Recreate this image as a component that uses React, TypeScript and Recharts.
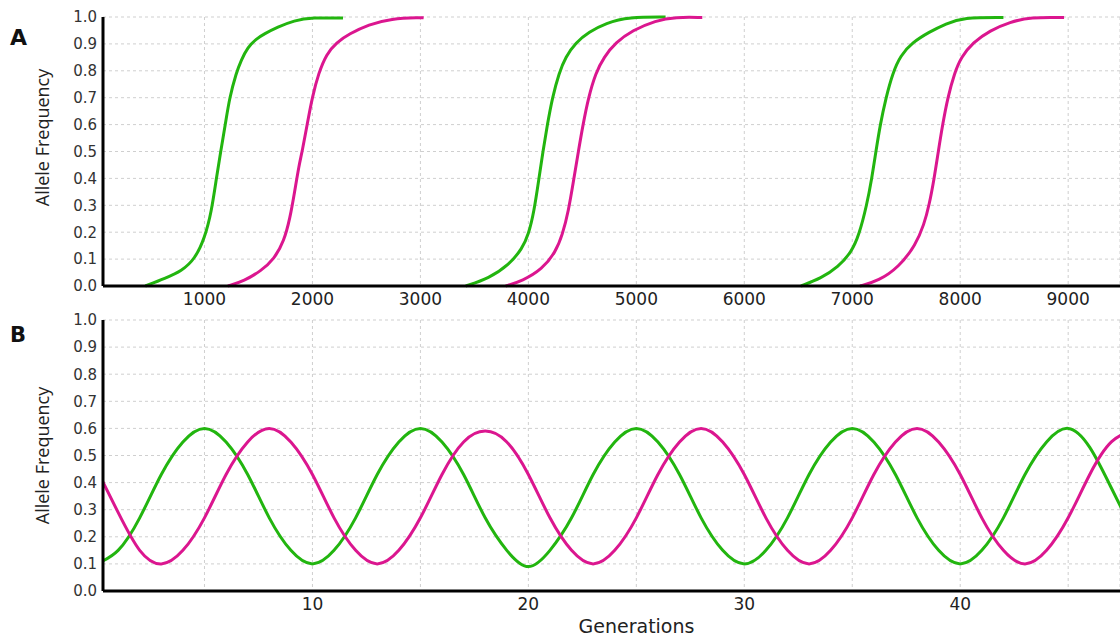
import { CartesianGrid, Line, LineChart, XAxis, YAxis } from 'recharts'

// panel A: three selective sweeps, each as [generation, allele frequency]
const sweepGreen1 = [
  [452, 0], [636, 0.029], [789, 0.056], [911, 0.1], [1003, 0.18], [1064, 0.275], [1110, 0.4],
  [1150, 0.5], [1193, 0.6], [1232, 0.7], [1294, 0.792], [1339, 0.839], [1400, 0.887],
  [1477, 0.918], [1553, 0.937], [1676, 0.962], [1828, 0.987], [2000, 0.998], [2283, 0.996],
]
const sweepMagenta1 = [
  [1217, 0], [1368, 0.019], [1523, 0.056], [1645, 0.1], [1737, 0.167], [1792, 0.252],
  [1835, 0.35], [1874, 0.446], [1905, 0.5], [1951, 0.6], [1997, 0.7], [2057, 0.792],
  [2131, 0.863], [2221, 0.905], [2340, 0.937], [2520, 0.972], [2728, 0.994], [3000, 0.998],
  [3030, 0.997],
]
const sweepGreen2 = [
  [3420, 0], [3635, 0.029], [3820, 0.078], [3944, 0.14], [4000, 0.19], [4052, 0.275],
  [4098, 0.4], [4135, 0.5], [4176, 0.6], [4222, 0.7], [4284, 0.792], [4345, 0.851],
  [4438, 0.905], [4561, 0.944], [4716, 0.977], [4931, 1.0], [5271, 1.0],
]
const sweepMagenta2 = [
  [3790, 0], [3944, 0.019], [4130, 0.063], [4253, 0.127], [4315, 0.19], [4370, 0.275],
  [4422, 0.4], [4463, 0.5], [4506, 0.6], [4556, 0.7], [4623, 0.792], [4700, 0.851],
  [4808, 0.905], [4963, 0.95], [5179, 0.987], [5364, 1.0], [5611, 0.998],
]
const sweepGreen3 = [
  [6525, 0], [6712, 0.029], [6869, 0.07], [6994, 0.127], [7063, 0.19], [7134, 0.3],
  [7181, 0.4], [7219, 0.5], [7259, 0.6], [7312, 0.7], [7375, 0.792], [7447, 0.857],
  [7556, 0.905], [7712, 0.944], [7869, 0.975], [8025, 0.998], [8400, 0.998],
]
const sweepMagenta3 = [
  [7072, 0], [7244, 0.019], [7431, 0.07], [7588, 0.153], [7665, 0.229], [7712, 0.3],
  [7759, 0.4], [7797, 0.5], [7837, 0.6], [7884, 0.7], [7947, 0.792], [8009, 0.851],
  [8118, 0.905], [8275, 0.95], [8462, 0.981], [8650, 1.0], [8962, 0.998],
]

// panel B: oscillating frequencies, one value per generation 0..48
const generationsB = [
  0, 1, 2, 3, 4, 5, 6, 7, 8, 9, 10, 11, 12, 13, 14, 15, 16, 17, 18, 19, 20, 21, 22, 23, 24,
  25, 26, 27, 28, 29, 30, 31, 32, 33, 34, 35, 36, 37, 38, 39, 40, 41, 42, 43, 44, 45, 46, 47, 48,
]
const greenB = [
  0.1, 0.15, 0.27, 0.43, 0.55, 0.6, 0.55, 0.43, 0.27, 0.15,
  0.1, 0.15, 0.27, 0.43, 0.55, 0.6, 0.55, 0.43, 0.27, 0.15,
  0.09, 0.15, 0.27, 0.43, 0.55, 0.6, 0.55, 0.43, 0.27, 0.15,
  0.1, 0.15, 0.27, 0.43, 0.55, 0.6, 0.55, 0.43, 0.27, 0.15,
  0.1, 0.15, 0.27, 0.43, 0.55, 0.6, 0.53, 0.38, 0.22,
]
const magentaB = [
  0.45, 0.29, 0.15, 0.1, 0.15, 0.27, 0.43, 0.55, 0.6, 0.55,
  0.43, 0.27, 0.15, 0.1, 0.15, 0.27, 0.43, 0.55, 0.59, 0.55,
  0.43, 0.27, 0.15, 0.1, 0.15, 0.27, 0.43, 0.55, 0.6, 0.55,
  0.43, 0.27, 0.15, 0.1, 0.15, 0.27, 0.43, 0.55, 0.6, 0.55,
  0.43, 0.27, 0.15, 0.1, 0.15, 0.27, 0.43, 0.55, 0.59,
]

const ticksA = [1000, 2000, 3000, 4000, 5000, 6000, 7000, 8000, 9000]
const ticksB = [5, 10, 15, 20, 25, 30, 35, 40, 45]
const freqTicks = [0, 0.1, 0.2, 0.3, 0.4, 0.5, 0.6, 0.7, 0.8, 0.9, 1.0]

const GREEN = '#22b50f'
const MAGENTA = '#db168f'
const font = 'DejaVu Sans'

const toPoints = (pts: number[][]) => pts.map(([gen, freq]) => ({ gen, freq }))
const dataB = generationsB.map((gen, i) => ({ gen, green: greenB[i], magenta: magentaB[i] }))

const axisLine = { stroke: '#000', strokeWidth: 3 }
const tickStyle = { fill: '#222', fontSize: 17, fontFamily: font }
const yTickStyle = { fill: '#333', fontSize: 15, fontFamily: font }

const yLabel = (dy: number) => ({
  value: 'Allele Frequency',
  angle: -90,
  position: 'center' as const,
  dx: -9,
  dy,
  fill: '#222',
  fontSize: 18,
  fontFamily: 'Open Sans',
})

export default function App() {
  return (
    <div style={{ position: 'absolute', left: 0, top: 0, width: 1120, height: 637, background: '#fff' }}>
      <div style={{ position: 'absolute', left: 0, top: 0 }}>
        <LineChart width={1120} height={310} margin={{ top: 17, right: 0, bottom: 0, left: 0 }}>
          <CartesianGrid strokeDasharray='3 3' stroke='#cfcfcf' />
          <XAxis
            type='number'
            dataKey='gen'
            domain={[60, 9480]}
            ticks={ticksA}
            allowDataOverflow
            height={24}
            tickSize={0}
            tickMargin={7}
            tickLine={false}
            axisLine={axisLine}
            tick={tickStyle}
          />
          <YAxis
            type='number'
            domain={[0, 1]}
            ticks={freqTicks}
            width={103}
            tickSize={0}
            tickMargin={6}
            tickLine={false}
            axisLine={axisLine}
            tick={yTickStyle}
            tickFormatter={(v: number) => v.toFixed(1)}
            label={yLabel(-14)}
          />
          {[sweepGreen1, sweepGreen2, sweepGreen3].map((s, i) => (
            <Line key={'g' + i} data={toPoints(s)} dataKey='freq' type='basis' stroke={GREEN}
              strokeWidth={3} dot={false} isAnimationActive={false} />
          ))}
          {[sweepMagenta1, sweepMagenta2, sweepMagenta3].map((s, i) => (
            <Line key={'m' + i} data={toPoints(s)} dataKey='freq' type='basis' stroke={MAGENTA}
              strokeWidth={3} dot={false} isAnimationActive={false} />
          ))}
        </LineChart>
      </div>
      <div style={{ position: 'absolute', left: 0, top: 310 }}>
        <LineChart width={1120} height={327} data={dataB} margin={{ top: 10, right: 0, bottom: 0, left: 0 }}>
          <CartesianGrid strokeDasharray='3 3' stroke='#cfcfcf' />
          <XAxis
            type='number'
            dataKey='gen'
            domain={[0.3, 47.4]}
            ticks={ticksB}
            allowDataOverflow
            height={46}
            tickSize={0}
            tickMargin={7}
            tickLine={false}
            axisLine={axisLine}
            tick={tickStyle}
            tickFormatter={(v: number) => (v % 10 === 0 ? String(v) : '')}
            label={{ value: 'Generations', position: 'insideBottom', offset: 4, dx: 25, fill: '#222', fontSize: 19, fontFamily: font }}
          />
          <YAxis
            type='number'
            domain={[0, 1]}
            ticks={freqTicks}
            width={103}
            tickSize={0}
            tickMargin={6}
            tickLine={false}
            axisLine={axisLine}
            tick={yTickStyle}
            tickFormatter={(v: number) => v.toFixed(1)}
            label={yLabel(0)}
          />
          <Line dataKey='green' type='natural' stroke={GREEN} strokeWidth={3} dot={false} isAnimationActive={false} />
          <Line dataKey='magenta' type='natural' stroke={MAGENTA} strokeWidth={3} dot={false} isAnimationActive={false} />
        </LineChart>
      </div>
      <svg width={40} height={637} style={{ position: 'absolute', left: 0, top: 0 }}>
        <text x={10} y={45} fontFamily={font} fontWeight='bold' fontSize={22} fill='#111'>A</text>
        <text x={10} y={342} fontFamily={font} fontWeight='bold' fontSize={21} fill='#111'>B</text>
      </svg>
    </div>
  )
}
